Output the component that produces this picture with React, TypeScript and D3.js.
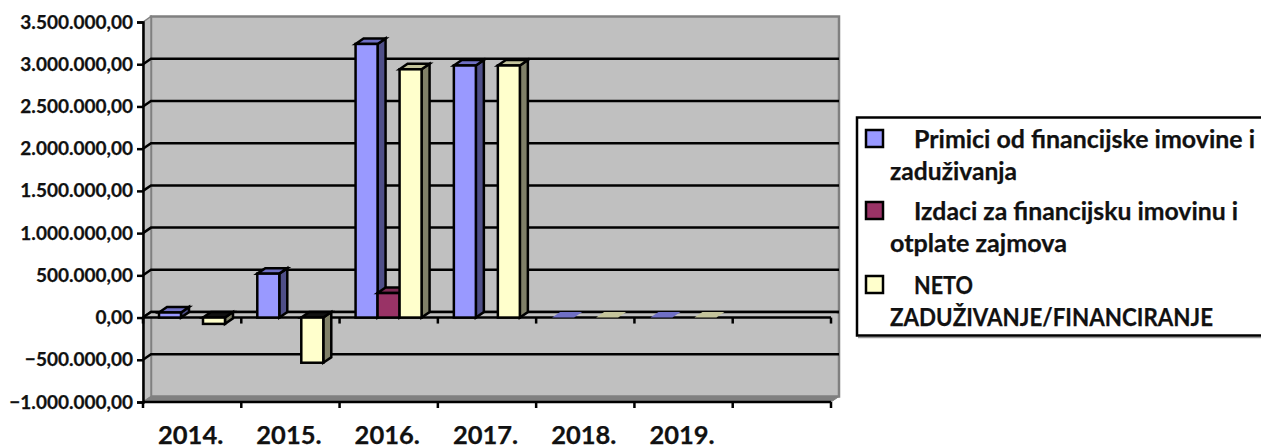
import { useEffect, useRef } from 'react';
import * as d3 from 'd3';

const categories = ['2014.', '2015.', '2016.', '2017.', '2018.', '2019.', ''];
const seriesNames = ['primici', 'izdaci', 'neto'];
const primici = [60000, 520000, 3240000, 2985000, 2000, 2000, null];
const izdaci = [null, null, 290000, null, null, null, null];
const neto = [-75000, -535000, 2940000, 2985000, 2000, 2000, null];
const yTicks = [-1000000, -500000, 0, 500000, 1000000, 1500000, 2000000, 2500000, 3000000, 3500000];
const legendLines = [
  ['Primici od financijske imovine i', 'zaduživanja'],
  ['Izdaci za financijsku imovinu i', 'otplate zajmova'],
  ['NETO', 'ZADUŽIVANJE/FINANCIRANJE'],
];
// measured line widths, the fallback font runs wider on capitals
const legendWidths = [[341, 127], [324, 177], [59, 323]];

const colors = [
  { front: '#9999ff', top: '#6f6fc4', side: '#4f4f88' },
  { front: '#993366', top: '#7d2a54', side: '#5a1f3d' },
  { front: '#ffffcc', top: '#c4c49c', side: '#808068' },
];

const FONT = 'Lato, "Open Sans", sans-serif';
const LINE = 2.5;
const DX = 8;
const DY = -5.5;

const nf = d3.formatLocale({
  decimal: ',',
  thousands: '.',
  grouping: [3],
  currency: ['', ''],
}).format(',.2f');

export default function App() {
  const svgRef = useRef<SVGSVGElement>(null);

  useEffect(() => {
    const svg = d3.select(svgRef.current);
    svg.selectAll('*').remove();

    const x = d3.scaleBand<string>().domain(categories.map((c, i) => i + c)).range([143, 831]);
    const xBar = d3.scaleBand<string>().domain(seriesNames).range([16, 82]);
    const y = d3.scaleLinear().domain([-1000000, 3500000]).range([402, 22]);
    const x0 = 143;
    const x1 = 831;
    const y0 = y(0);
    const yb = y(-1000000);
    const yt = y(3500000);

    const poly = (pts: number[][], fill: string, stroke = 'none', sw = LINE) =>
      svg.append('polygon')
        .attr('points', pts.map((p) => p.join(',')).join(' '))
        .attr('fill', fill)
        .attr('stroke', stroke)
        .attr('stroke-width', sw)
        .attr('stroke-linejoin', 'miter');

    // Back wall, side wall, floor
    poly([[x0 + DX, yt + DY], [x1 + DX, yt + DY], [x1 + DX, yb + DY], [x0 + DX, yb + DY]], '#c0c0c0', '#808080', 2.5);
    poly([[x0, yt], [x0 + DX, yt + DY], [x0 + DX, yb + DY], [x0, yb]], '#c0c0c0', '#808080', 1.5);
    poly([[x0, yb], [x0 + DX, yb + DY], [x1 + DX, yb + DY], [x1, yb]], '#808080', '#808080', 1);

    // Gridlines on the wall
    yTicks.filter((t) => t > -1000000 && t < 3500000).forEach((t) => {
      svg.append('path')
        .attr('d', `M${x0},${y(t)}L${x0 + DX},${y(t) + DY}L${x1 + DX},${y(t) + DY}`)
        .attr('fill', 'none')
        .attr('stroke', '#000')
        .attr('stroke-width', LINE);
    });

    // Floor at zero
    poly([[x0, y0], [x0 + DX, y0 + DY], [x1 + DX, y0 + DY], [x1, y0]], '#c0c0c0');
    svg.append('path')
      .attr('d', `M${x0},${y0}L${x0 + DX},${y0 + DY}L${x1 + DX},${y0 + DY}`)
      .attr('fill', 'none')
      .attr('stroke', '#000')
      .attr('stroke-width', LINE);

    // Value axis
    const yAxis = svg.append('g')
      .attr('transform', `translate(${x0},0)`)
      .call(d3.axisLeft(y).tickValues(yTicks).tickSize(6).tickPadding(4).tickFormat((d) => nf(d as number)));
    yAxis.selectAll('line, path').attr('stroke', '#000').attr('stroke-width', LINE);
    yAxis.selectAll('text')
      .attr('font-family', FONT)
      .attr('font-size', 19)
      .attr('font-weight', 700)
      .attr('fill', '#111')
      .attr('stroke', '#111')
      .attr('stroke-width', 0.25);

    // Category axes (at zero and along the bottom), ticks only on the boundaries
    const boundaries = [...x.domain().map((d) => x(d) as number), x1];
    [y0, yb].forEach((ya) => {
      svg.append('line')
        .attr('x1', x0).attr('x2', x1)
        .attr('y1', ya).attr('y2', ya)
        .attr('stroke', '#000').attr('stroke-width', LINE);
      boundaries.forEach((bx) => {
        svg.append('line')
          .attr('x1', bx).attr('x2', bx)
          .attr('y1', ya).attr('y2', ya + 6)
          .attr('stroke', '#000').attr('stroke-width', LINE);
      });
    });

    // Bars
    const allSeries = [primici, izdaci, neto];
    categories.forEach((c, i) => {
      allSeries.forEach((vals, s) => {
        const v = vals[i];
        if (v == null) return;
        const left = (x(i + c) as number) + (xBar(seriesNames[s]) as number);
        const right = left + xBar.bandwidth();
        const yTop = y(Math.max(v, 0));
        const yBot = y(Math.min(v, 0));
        const col = colors[s];
        const flat = yBot - yTop < 1;
        if (flat) {
          // next to nothing: only the top face shows on the floor
          poly([[left, yTop], [left + DX, yTop + DY], [right + DX, yTop + DY], [right, yTop]], col.top);
          return;
        }
        poly([[right, yTop], [right + DX, yTop + DY], [right + DX, yBot + DY], [right, yBot]], col.side, '#000');
        poly([[left, yTop], [left + DX, yTop + DY], [right + DX, yTop + DY], [right, yTop]], v < 0 ? '#111' : col.top, '#000');
        svg.append('rect')
          .attr('x', left)
          .attr('y', yTop)
          .attr('width', xBar.bandwidth())
          .attr('height', yBot - yTop)
          .attr('fill', col.front)
          .attr('stroke', '#000')
          .attr('stroke-width', LINE);
      });
    });

    // Year labels
    categories.forEach((c, i) => {
      svg.append('text')
        .attr('x', (x(i + c) as number) + x.bandwidth() / 2 - 1.5)
        .attr('y', 444)
        .attr('text-anchor', 'middle')
        .attr('font-family', FONT)
        .attr('font-size', 25.5)
        .attr('font-weight', 700)
        .attr('fill', '#111')
        .attr('stroke', '#111')
        .attr('stroke-width', 0.25)
        .text(c);
    });

    // Legend
    svg.append('line')
      .attr('x1', 858).attr('x2', 1261)
      .attr('y1', 337.5).attr('y2', 337.5)
      .attr('stroke', '#999')
      .attr('stroke-width', 1.5);
    svg.append('rect')
      .attr('x', 857).attr('y', 117.5)
      .attr('width', 420).attr('height', 218)
      .attr('fill', '#fff')
      .attr('stroke', '#000')
      .attr('stroke-width', LINE);
    const legendY = [148, 220, 294];
    legendLines.forEach((lines, i) => {
      svg.append('rect')
        .attr('x', 866).attr('y', legendY[i] - 18)
        .attr('width', 17).attr('height', 17)
        .attr('fill', colors[i].front)
        .attr('stroke', '#000')
        .attr('stroke-width', LINE);
      lines.forEach((line, j) => {
        svg.append('text')
          .attr('x', j === 0 ? 914 : 890)
          .attr('y', legendY[i] + j * 32)
          .attr('font-family', FONT)
          .attr('font-size', 24.8)
          .attr('font-weight', 700)
          .attr('fill', '#111')
          .attr('stroke', '#111')
          .attr('stroke-width', 0.25)
          .attr('textLength', legendWidths[i][j])
          .attr('lengthAdjust', 'spacingAndGlyphs')
          .text(line);
      });
    });
  }, []);

  return <svg ref={svgRef} width={1261} height={448} style={{ position: 'absolute', left: 0, top: 0 }} />;
}
